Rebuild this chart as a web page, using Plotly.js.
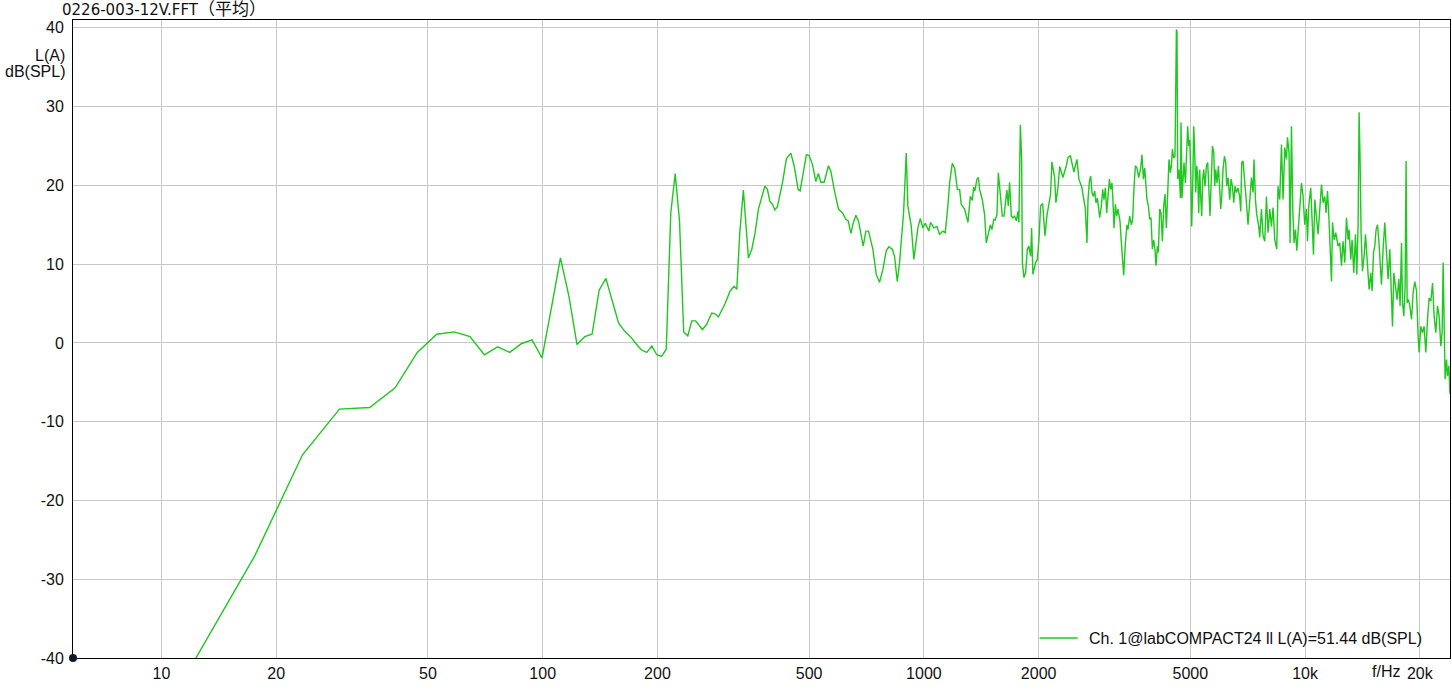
<!DOCTYPE html>
<html>
<head>
<meta charset="utf-8">
<script src="https://cdn.plot.ly/plotly-3.0.1.min.js"></script>
<style>
  html, body { margin: 0; padding: 0; background: #ffffff; }
  #chart { width: 1452px; height: 692px; }
</style>
</head>
<body>
<div id="chart"></div>
<script>
// Frequency (Hz) of each plotted FFT point
const freqHz = [
  11.72, 17.58, 23.44, 29.30, 35.16, 41.02, 46.88, 52.73, 58.59, 64.45,
  70.31, 76.17, 82.03, 87.89, 93.75, 99.61, 105.47, 111.33, 117.19, 123.05,
  128.91, 134.77, 140.63, 146.48, 152.34, 158.20, 164.06, 169.92, 175.78, 181.64,
  187.50, 193.36, 199.22, 205.08, 210.94, 216.80, 222.66, 228.52, 234.38, 240.23,
  246.09, 251.95, 262.4, 268.8, 277.7, 283.3, 289.0, 301.0, 310.2, 317.8,
  323.0, 328.9, 336.1, 346.5, 353.7, 360.8, 368.1, 373.5, 382.6, 388.6,
  394.3, 400.6, 406.4, 412.8, 425.5, 435.9, 447.7, 456.7, 467.8, 473.5,
  482.2, 491.9, 500, 510.0, 520.6, 528.9, 536.6, 547.4, 561.9, 570.1,
  581.6, 596.9, 611.6, 624.3, 633.1, 643.5, 652.5, 663.2, 673.8, 693.1,
  704.5, 715.7, 734.8, 750.0, 765.1, 780.5, 796.7, 809.3, 826.1, 837.7,
  851.5, 863.4, 884.5, 899.1, 907.8, 926.7, 941.3, 964.4, 978.5, 994,
  1008.5, 1030.7, 1041.3, 1062, 1082, 1099.5, 1121.7, 1138, 1156, 1168,
  1187, 1204, 1224, 1241, 1253, 1279, 1305, 1324, 1340, 1351,
  1361, 1378, 1390, 1400, 1423, 1443, 1458, 1478, 1494, 1508,
  1526, 1539, 1555, 1568, 1587, 1606, 1622, 1638, 1651, 1665,
  1678, 1696, 1712, 1730, 1748, 1765, 1775, 1791, 1805, 1813,
  1830, 1849, 1868, 1886, 1906, 1917, 1932, 1964, 1984, 2004,
  2024, 2049, 2078, 2103, 2150, 2167, 2203, 2220, 2248, 2271,
  2316, 2364, 2387, 2422, 2475, 2521, 2551, 2598, 2652, 2678,
  2695, 2718, 2739, 2761, 2784, 2806, 2828, 2852, 2875, 2892,
  2922, 2945, 2968, 2993, 3017, 3041, 3067, 3090, 3115, 3134,
  3153, 3180, 3205, 3230, 3269, 3297, 3323, 3343, 3378, 3410,
  3431, 3467, 3503, 3530, 3558, 3588, 3623, 3660, 3705, 3734,
  3766, 3796, 3848, 3882, 3912, 3943, 3976, 4008, 4039, 4064,
  4099, 4123, 4156, 4189, 4224, 4258, 4291, 4327, 4362, 4396,
  4433, 4460, 4487, 4522, 4558, 4597, 4614, 4633, 4670, 4710,
  4727, 4755, 4784, 4813, 4854, 4892, 4922, 4952, 4982, 5012,
  5042, 5073, 5104, 5135, 5166, 5197, 5229, 5260, 5292, 5324,
  5357, 5389, 5422, 5465, 5511, 5554, 5588, 5632, 5680, 5715,
  5760, 5795, 5830, 5876, 5925, 5972, 6009, 6045, 6092, 6144,
  6193, 6230, 6280, 6344, 6395, 6449, 6500, 6551, 6607, 6671,
  6739, 6780, 6821, 6875, 6945, 7018, 7086, 7159, 7233, 7303,
  7348, 7410, 7469, 7559, 7605, 7684, 7758, 7839, 7919, 7997,
  8078, 8162, 8242, 8327, 8428, 8494, 8582, 8671, 8755, 8845,
  8937, 8991, 9078, 9133, 9211, 9284, 9357, 9437, 9511, 9586,
  9685, 9785, 9880, 9982, 10085, 10146, 10226, 10350, 10432, 10521,
  10604, 10713, 10818, 10930, 11042, 11150, 11265, 11353, 11450, 11540,
  11632, 11731, 11802, 11917, 12038, 12206, 12332, 12460, 12580, 12712,
  12842, 12966, 13046, 13180, 13284, 13422, 13560, 13668, 13774, 13858,
  13942, 14026, 14146, 14284, 14404, 14522, 14632, 14722, 14872, 14990,
  15118, 15238, 15358, 15488, 15610, 15734, 15866, 16022, 16186, 16354,
  16512, 16684, 16856, 16958, 17092, 17268, 17436, 17616, 17754, 17906,
  18016, 18156, 18300, 18410, 18522, 18680, 18826, 19022, 19206, 19406,
  19604, 19796, 19916, 20122, 20330, 20526, 20738, 20952, 21156, 21376,
  21596, 21806, 22030, 22258, 22476, 22706, 22886, 23024, 23162, 23302,
  23502, 23642, 23834, 24000
];

// A-weighted level, dB(SPL)
const levelDb = [
  -41.8, -27.0, -14.2, -8.4, -8.2, -5.7, -1.2, 1.1, 1.4, 0.8,
  -1.5, -0.5, -1.2, -0.1, 0.4, -1.9, 4.5, 10.8, 5.9, -0.2,
  0.8, 1.1, 6.7, 8.2, 5.3, 2.5, 1.5, 0.8, -0.1, -0.9,
  -1.2, -0.4, -1.5, -1.7, -0.8, 16.5, 21.5, 15.5, 1.4, 0.9,
  2.8, 2.8, 1.7, 2.3, 3.8, 3.7, 3.3, 5.0, 6.6, 7.2,
  6.8, 14.0, 19.4, 10.8, 11.9, 14.0, 17.0, 18.2, 19.9, 19.5,
  18.0, 17.6, 16.9, 17.3, 20.3, 23.4, 24.1, 22.5, 19.5, 19.3,
  21.6, 23.9, 23.8, 22.7, 20.5, 21.5, 20.4, 20.4, 22.5, 21.8,
  19.5, 17.0, 16.5, 15.7, 15.5, 13.9, 15.2, 16.2, 15.5, 12.3,
  14.2, 14.2, 11.9, 8.7, 7.7, 9.3, 11.7, 12.2, 11.9, 11.0,
  7.8, 10.2, 16.5, 24.1, 17.4, 14.8, 10.6, 14.6, 15.8, 14.6,
  15.2, 14.2, 15.3, 14.6, 14.8, 13.8, 14.2, 14.0, 17.4, 20.3,
  22.8, 22.2, 19.5, 19.5, 17.6, 17.0, 15.3, 18.6, 18.1, 19.8,
  19.3, 20.8, 21.0, 19.5, 18.2, 16.3, 12.7, 14.0, 15.0, 14.4,
  15.7, 15.6, 16.3, 21.6, 18.2, 16.1, 16.1, 18.2, 19.4, 17.4,
  20.4, 16.1, 15.9, 16.1, 15.5, 16.7, 15.3, 27.7, 23.3, 10.2,
  8.3, 8.9, 11.9, 12.3, 11.0, 14.6, 8.7, 10.2, 10.6, 13.1,
  17.4, 17.7, 13.6, 16.2, 18.9, 23.0, 21.0, 17.8, 19.7, 22.4,
  21.0, 22.5, 23.5, 23.8, 21.7, 23.3, 20.8, 19.7, 17.0, 12.7,
  18.2, 20.5, 21.2, 19.1, 18.6, 19.3, 17.8, 18.4, 17.0, 15.9,
  17.4, 19.5, 18.2, 19.7, 16.5, 19.1, 20.8, 19.5, 20.3, 18.0,
  14.6, 17.6, 16.1, 17.0, 15.5, 12.7, 10.4, 8.6, 12.7, 15.0,
  14.4, 16.1, 15.0, 15.7, 19.7, 22.5, 22.2, 21.0, 22.2, 23.9,
  20.8, 22.2, 18.2, 17.4, 15.7, 15.9, 11.9, 13.1, 11.9, 9.8,
  12.3, 11.5, 17.0, 16.5, 12.9, 17.4, 18.9, 14.6, 19.1, 23.3,
  21.6, 22.5, 24.6, 23.5, 23.7, 39.8, 39.5, 20.8, 22.0, 18.4,
  28.0, 18.4, 21.2, 22.9, 20.3, 24.6, 27.5, 25.0, 25.8, 22.0,
  14.8, 19.9, 27.5, 24.2, 19.1, 22.5, 21.2, 16.5, 22.0, 18.6,
  16.1, 20.8, 22.0, 19.9, 22.5, 22.9, 18.6, 16.1, 21.2, 25.0,
  24.2, 19.9, 22.0, 20.3, 22.5, 19.1, 17.0, 18.6, 22.0, 23.7,
  22.9, 19.9, 21.0, 18.2, 20.8, 19.9, 17.8, 19.9, 19.1, 19.7,
  18.5, 16.7, 22.9, 23.1, 20.8, 17.8, 15.0, 18.6, 21.0, 19.1,
  23.3, 18.2, 16.3, 14.8, 13.4, 17.0, 13.6, 12.9, 18.6, 14.0,
  17.0, 14.8, 17.2, 13.1, 11.9, 19.9, 18.2, 25.2, 18.2, 24.8,
  23.3, 26.1, 24.2, 12.7, 27.5, 17.0, 12.7, 14.4, 11.7, 14.0,
  17.8, 20.3, 18.6, 15.0, 17.0, 12.9, 17.4, 19.7, 15.7, 11.2,
  18.2, 15.9, 13.8, 17.0, 20.1, 17.8, 18.6, 16.5, 19.3, 16.3,
  11.5, 7.8, 15.3, 13.1, 14.0, 12.3, 12.7, 9.8, 12.9, 10.2,
  15.9, 13.1, 14.4, 10.6, 13.1, 8.9, 13.8, 8.7, 14.8, 29.3,
  23.3, 14.0, 9.1, 11.0, 13.8, 11.5, 8.7, 6.8, 8.9, 6.6,
  11.5, 12.3, 14.4, 15.0, 13.1, 9.8, 7.4, 11.9, 15.3, 11.5,
  8.1, 11.9, 5.5, 2.1, 8.9, 7.2, 5.5, 8.1, 4.7, 12.7,
  5.1, 3.4, 7.2, 23.1, 5.1, 5.5, 4.7, 3.0, 6.4, 7.8,
  6.6, 0.9, -1.2, 2.1, 1.3, 2.1, -1.2, 3.0, 5.7, 5.3,
  7.6, 3.4, 1.3, 4.7, 3.4, -0.4, 1.3, 10.2, -1.7, -4.6,
  -2.1, -4.2, -2.9, -6.5
];

// Axis tick values and labels
const xTickVals = [10, 20, 50, 100, 200, 500, 1000, 2000, 5000, 10000, 20000];
const xTickText = ['10', '20', '50', '100', '200', '500', '1000', '2000', '5000', '10k', '20k'];
const yTickVals = [-40, -30, -20, -10, 0, 10, 20, 30, 40];
const yTickText = ['-40', '-30', '-20', '-10', '0', '10', '20', '30', '40'];

const titleFile = '0226-003-12V.FFT';
const titleSuffix = '（平均）';
const seriesName = 'Ch. 1@labCOMPACT24 ll L(A)=51.44 dB(SPL)';
const yUnitLines = ['L(A)', 'dB(SPL)'];
const xUnitLabel = 'f/Hz';

const fontFamily = '"Liberation Sans", Arial, "Noto Sans CJK SC", sans-serif';
const titleFamily = '"DejaVu Sans", "Noto Sans CJK SC", sans-serif';
const textColor = '#111111';
const gridColor = '#c8c8c8';
const lineColor = '#1ec81e';

// plot-area geometry (pixels) used for placing the hand-drawn legend
const plotLeft = 73, plotWidth = 1377.5, plotBottom = 658, plotHeight = 638;
const px2paperX = px => (px - plotLeft) / plotWidth;
const px2paperY = py => (plotBottom - py) / plotHeight;

const trace = {
  x: freqHz,
  y: levelDb,
  type: 'scatter',
  mode: 'lines',
  name: seriesName,
  showlegend: false,
  line: { color: lineColor, width: 1.4 },
  cliponaxis: true,
  hoverinfo: 'x+y'
};

const layout = {
  width: 1452,
  height: 692,
  margin: { l: 73, r: 2, t: 20, b: 34, pad: 0 },
  paper_bgcolor: '#ffffff',
  plot_bgcolor: '#ffffff',
  font: { family: fontFamily, size: 15, color: textColor },
  title: {
    text: titleFile + '<span style="font-size:17px">' + titleSuffix + '</span>',
    font: { family: titleFamily, size: 15, color: textColor },
    xref: 'container', yref: 'container',
    x: 62 / 1452, xanchor: 'left',
    y: 1 - 10 / 692, yanchor: 'middle'
  },
  showlegend: false,
  xaxis: {
    type: 'log',
    range: [Math.log10(5.859375), Math.log10(24000)],
    tickmode: 'array',
    tickvals: xTickVals,
    ticktext: xTickText,
    ticks: '',
    ticklabelstandoff: 1,
    showgrid: true,
    gridcolor: gridColor,
    gridwidth: 1,
    showline: true,
    linecolor: '#000000',
    linewidth: 1,
    mirror: true,
    zeroline: false,
    tickfont: { family: fontFamily, size: 16, color: textColor }
  },
  yaxis: {
    range: [-40, 41],
    tickmode: 'array',
    tickvals: yTickVals,
    ticktext: yTickText,
    ticks: '',
    ticklabelstandoff: 5,
    showgrid: true,
    gridcolor: gridColor,
    gridwidth: 1,
    showline: true,
    linecolor: '#000000',
    linewidth: 1,
    mirror: true,
    zeroline: false,
    tickfont: { family: fontFamily, size: 16, color: textColor }
  },
  annotations: [
    {
      text: yUnitLines[0],
      xref: 'paper', yref: 'y',
      x: 0, y: 41 - (55 - 20) / 7.877,
      xanchor: 'right', yanchor: 'middle',
      xshift: -6,
      showarrow: false,
      font: { family: fontFamily, size: 16, color: textColor }
    },
    {
      text: yUnitLines[1],
      xref: 'paper', yref: 'y',
      x: 0, y: 41 - (71 - 20) / 7.877,
      xanchor: 'right', yanchor: 'middle',
      xshift: -6,
      showarrow: false,
      font: { family: fontFamily, size: 16, color: textColor }
    },
    {
      text: xUnitLabel,
      xref: 'x', yref: 'paper',
      x: Math.log10(16300), y: 0,
      xanchor: 'center', yanchor: 'top',
      yshift: -3,
      showarrow: false,
      font: { family: fontFamily, size: 16, color: textColor }
    },
    {
      text: seriesName,
      xref: 'paper', yref: 'paper',
      x: px2paperX(1087), y: px2paperY(638),
      xanchor: 'left', yanchor: 'middle',
      showarrow: false,
      font: { family: fontFamily, size: 16, color: textColor }
    }
  ],
  shapes: [
    {
      type: 'line',
      xref: 'paper', yref: 'paper',
      x0: px2paperX(1040), x1: px2paperX(1078),
      y0: px2paperY(638), y1: px2paperY(638),
      line: { color: lineColor, width: 1.35 }
    },
    {
      type: 'circle',
      xref: 'paper', yref: 'paper',
      xsizemode: 'pixel', ysizemode: 'pixel',
      xanchor: 0, yanchor: 0,
      x0: -4, x1: 4, y0: -4, y1: 4,
      fillcolor: '#0b1a2c',
      line: { color: '#0b1a2c', width: 0 }
    }
  ]
};

Plotly.newPlot('chart', [trace], layout, { displayModeBar: false, staticPlot: true });
</script>
</body>
</html>
